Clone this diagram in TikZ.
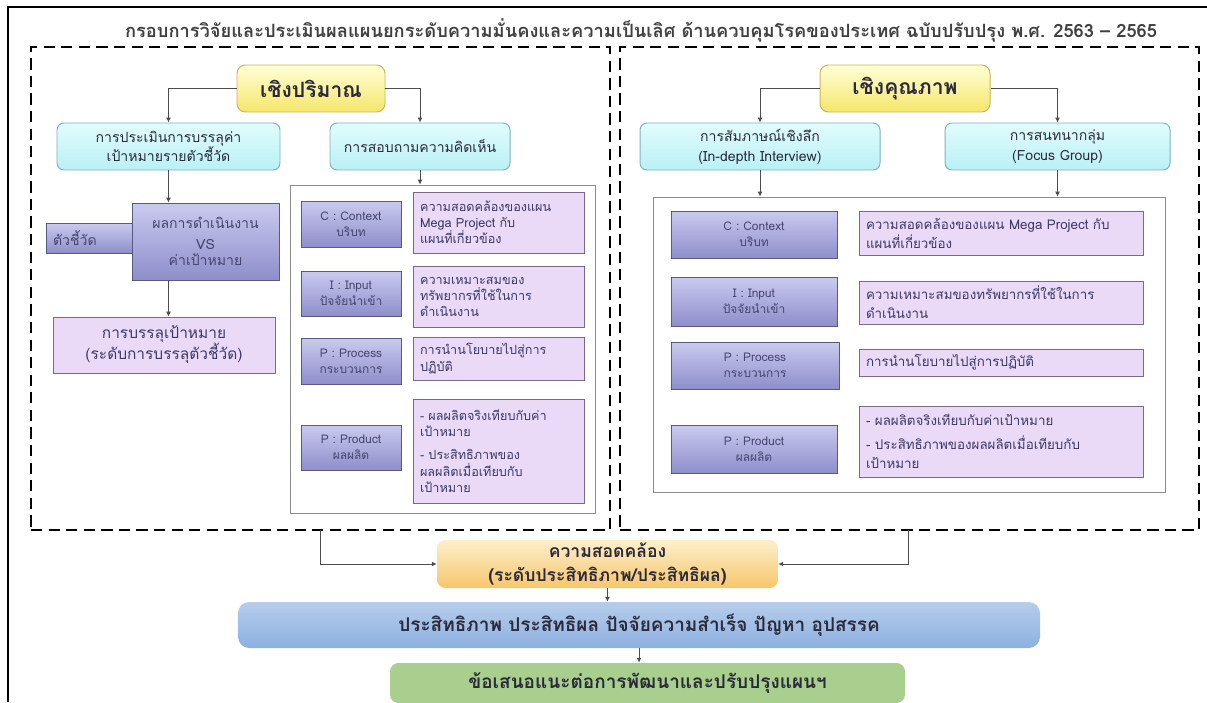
\documentclass[tikz,border=0pt]{standalone}
\usepackage{fontspec}
\setmainfont[Script=Thai]{Loma}
\usetikzlibrary{arrows.meta}
\definecolor{ytop}{HTML}{FFFFD6}
\definecolor{ybot}{HTML}{F5E66A}
\definecolor{ybord}{HTML}{C9B65A}
\definecolor{ctop}{HTML}{E2FCFD}
\definecolor{cbot}{HTML}{B9F0F5}
\definecolor{cbord}{HTML}{7FB3BC}
\definecolor{ptop}{HTML}{CACAF0}
\definecolor{pbot}{HTML}{8E8ECB}
\definecolor{pbord}{HTML}{5A5A80}
\definecolor{pktxt}{HTML}{EBD9F8}
\definecolor{pkbord}{HTML}{7A6A8A}
\definecolor{otop}{HTML}{FDEFCB}
\definecolor{obot}{HTML}{F7C66C}
\definecolor{btop}{HTML}{B6CDEC}
\definecolor{bbot}{HTML}{8DB0E0}
\definecolor{gfill}{HTML}{A8CF8E}
\definecolor{darktxt}{HTML}{2A2A3A}
\definecolor{ptxt}{HTML}{3A3A64}
\definecolor{pvtxt}{HTML}{45456E}
\tikzset{
  frame/.style={draw=black, line width=1.4pt},
  dashbox/.style={draw=black, line width=1.6pt, dash pattern=on 8pt off 4.5pt},
  contbox/.style={draw=black!45, line width=0.6pt},
  conn/.style={draw=black!70, line width=0.6pt, -{Latex[length=3.5pt,width=3.5pt]}},
  titlestyle/.style={font=\fontsize{13}{15}\selectfont\bfseries, text=black!75},
  headbox/.style={draw=ybord, line width=0.7pt, rounded corners=6pt, top color=ytop, bottom color=ybot, align=center, font=\fontsize{15}{18}\selectfont\bfseries, text=darktxt},
  cyanbox/.style={draw=cbord, line width=0.7pt, rounded corners=5pt, top color=ctop, bottom color=cbot, align=center, font=\fontsize{10}{14}\selectfont, text=darktxt},
  purplebox/.style={draw=pbord, line width=0.6pt, top color=ptop, bottom color=pbot, align=center, font=\fontsize{8.5}{11.5}\selectfont, text=pvtxt},
  pinkboxl/.style={draw=pkbord, line width=0.6pt, fill=pktxt, align=left, font=\fontsize{9}{11.5}\selectfont, text=ptxt},
  pinkboxr/.style={draw=pkbord, line width=0.6pt, fill=pktxt, align=left, font=\fontsize{9.5}{13.5}\selectfont, text=ptxt},
  goalbox/.style={draw=pkbord, line width=0.6pt, fill=pktxt, align=center, font=\fontsize{11}{15}\selectfont, text=ptxt},
  orangebox/.style={draw=none, rounded corners=6pt, top color=otop, bottom color=obot, align=center, font=\fontsize{12.5}{17}\selectfont\bfseries, text=darktxt},
  bluebox/.style={draw=none, rounded corners=8pt, top color=btop, bottom color=bbot, align=center, font=\fontsize{13.5}{15}\selectfont\bfseries, text=darktxt},
  greenbox/.style={draw=none, rounded corners=6pt, fill=gfill, align=center, font=\fontsize{13.5}{15}\selectfont\bfseries, text=darktxt}
}
% name, style, x1, y1, x2, y2, text
\newcommand{\bx}[7]{%
  \pgfmathsetmacro{\bxw}{(#5-#3)*0.025}%
  \pgfmathsetmacro{\bxh}{(#6-#4)*0.025}%
  \pgfmathsetmacro{\bxt}{(#5-#3)*0.025*28.4527-10}%
  \node[#2, minimum width=\bxw cm, minimum height=\bxh cm, text width=\bxt pt, inner xsep=5pt, inner ysep=0pt] (#1) at ({(#3+#5)/2},{(#4+#6)/2}) {#7};%
}
\begin{document}
\begin{tikzpicture}[x=0.025cm,y=-0.025cm]
\useasboundingbox (0,0) rectangle (1207,702);
\draw[frame] (8,702) -- (8,7) -- (1207,7);
\node[titlestyle] (title) at (641,30) {กรอบการวิจัยและประเมินผลแผนยกระดับความมั่นคงและความเป็นเลิศ ด้านควบคุมโรคของประเทศ ฉบับปรับปรุง พ.ศ. 2563 – 2565};

% dashed frames
\bx{lq}{dashbox}{31}{47}{610}{530}{}
\bx{rq}{dashbox}{620}{47}{1199}{530}{}

% ---------- left: quantitative ----------
\bx{yq}{headbox}{237}{65}{385}{112}{เชิงปริมาณ}
\bx{c1}{cyanbox}{57}{123}{280}{170}{การประเมินการบรรลุค่า\\เป้าหมายรายตัวชี้วัด}
\bx{c2}{cyanbox}{330}{123}{510}{170}{การสอบถามความคิดเห็น}
\bx{ind}{purplebox,align=left}{46}{223}{132}{253}{\fontsize{10}{12}\selectfont ตัวชี้วัด}
\bx{pv}{purplebox}{132}{203}{279}{280}{\fontsize{10}{14.5}\selectfont ผลการดำเนินงาน\\VS\\ค่าเป้าหมาย}
\bx{goal}{goalbox}{53}{317}{275}{373}{การบรรลุเป้าหมาย\\(ระดับการบรรลุตัวชี้วัด)}

\bx{lcont}{contbox}{290}{185}{595}{513}{}
\bx{lC}{purplebox}{301}{201}{401}{247}{C : Context\\บริบท}
\bx{lCt}{pinkboxl}{413}{192}{584}{253}{ความสอดคล้องของแผน\\Mega Project กับ\\แผนที่เกี่ยวข้อง}
\bx{lI}{purplebox}{301}{271}{401}{316}{I : Input\\ปัจจัยนำเข้า}
\bx{lIt}{pinkboxl}{413}{266}{584}{327}{ความเหมาะสมของ\\ทรัพยากรที่ใช้ในการ\\ดำเนินงาน}
\bx{lP}{purplebox}{301}{338}{401}{384}{P : Process\\กระบวนการ}
\bx{lPt}{pinkboxl}{413}{337}{584}{380}{การนำนโยบายไปสู่การ\\ปฏิบัติ}
\bx{lR}{purplebox}{301}{425}{401}{470}{P : Product\\ผลผลิต}
\bx{lRt}{pinkboxl}{413}{399}{584}{503}{- ผลผลิตจริงเทียบกับค่า\\เป้าหมาย\\[5pt]- ประสิทธิภาพของ\\ผลผลิตเมื่อเทียบกับ\\เป้าหมาย}

% ---------- right: qualitative ----------
\bx{yr}{headbox}{820}{65}{990}{112}{เชิงคุณภาพ}
\bx{c3}{cyanbox}{640}{123}{880}{170}{การสัมภาษณ์เชิงลึก\\(In-depth Interview)}
\bx{c4}{cyanbox}{945}{123}{1170}{170}{การสนทนากลุ่ม\\(Focus Group)}

\bx{rcont}{contbox}{653}{197}{1165}{492}{}
\bx{rC}{purplebox}{671}{211}{837}{258}{C : Context\\บริบท}
\bx{rCt}{pinkboxr}{859}{211}{1143}{255}{ความสอดคล้องของแผน Mega Project กับ\\แผนที่เกี่ยวข้อง}
\bx{rI}{purplebox}{671}{277}{837}{326}{I : Input\\ปัจจัยนำเข้า}
\bx{rIt}{pinkboxr}{859}{281}{1143}{324}{ความเหมาะสมของทรัพยากรที่ใช้ในการ\\ดำเนินงาน}
\bx{rP}{purplebox}{671}{342}{839}{389}{P : Process\\กระบวนการ}
\bx{rPt}{pinkboxr}{859}{349}{1143}{376}{การนำนโยบายไปสู่การปฏิบัติ}
\bx{rR}{purplebox}{671}{425}{837}{473}{P : Product\\ผลผลิต}
\bx{rRt}{pinkboxr}{859}{406}{1143}{477}{- ผลผลิตจริงเทียบกับค่าเป้าหมาย\\[4pt]- ประสิทธิภาพของผลผลิตเมื่อเทียบกับ\\เป้าหมาย}

% ---------- bottom ----------
\bx{orange}{orangebox}{437}{540}{778}{588}{ความสอดคล้อง\\(ระดับประสิทธิภาพ/ประสิทธิผล)}
\bx{blue}{bluebox}{238}{602}{1040}{648}{ประสิทธิภาพ ประสิทธิผล ปัจจัยความสำเร็จ ปัญหา อุปสรรค}
\bx{green}{greenbox}{390}{663}{905}{703}{ข้อเสนอแนะต่อการพัฒนาและปรับปรุงแผนฯ}

% ---------- connectors ----------
\draw[conn] (yq.west) -| (c1.north);
\draw[conn] (yq.east) -| (c2.north);
\draw[conn] (c1.south) -- (c1.south |- pv.north);
\draw[conn] (c1.south |- pv.south) -- (c1.south |- goal.north);
\draw[conn] (c2.south) -- (c2.south |- lcont.north);
\draw[conn] (yr.west) -| (c3.north);
\draw[conn] (yr.east) -| (c4.north);
\draw[conn] (c3.south) -- (c3.south |- rcont.north);
\draw[conn] (c4.south) -- (c4.south |- rcont.north);
\coordinate (lqout) at (320,530);
\coordinate (rqout) at (908,530);
\draw[conn] (lqout) |- (orange.west);
\draw[conn] (rqout) |- (orange.east);
\draw[conn] (orange.south) -- (orange.south |- blue.north);
\draw[conn] (blue.south) -- (blue.south |- green.north);
\end{tikzpicture}
\end{document}
